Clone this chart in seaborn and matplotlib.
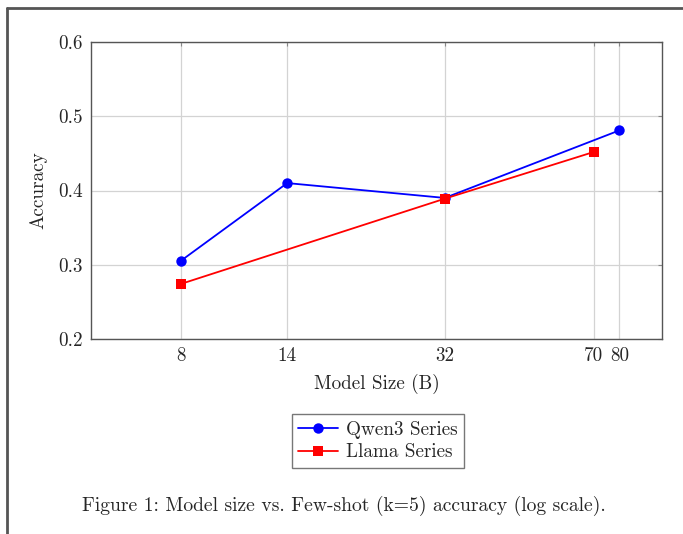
import matplotlib
matplotlib.use("Agg")
import matplotlib.pyplot as plt
import seaborn as sns
import pandas as pd
from matplotlib.lines import Line2D
from matplotlib.ticker import FixedLocator, FixedFormatter, NullLocator

qwen_sizes = [8, 14, 32, 80]
qwen_acc = [0.305, 0.410, 0.390, 0.481]
llama_sizes = [8, 32, 70]
llama_acc = [0.274, 0.389, 0.452]
series_names = ["Qwen3 Series", "Llama Series"]
x_ticks = [8, 14, 32, 70, 80]
y_ticks = [0.2, 0.3, 0.4, 0.5, 0.6]

df = pd.DataFrame({
    "size": qwen_sizes + llama_sizes,
    "acc": qwen_acc + llama_acc,
    "series": [series_names[0]] * len(qwen_sizes) + [series_names[1]] * len(llama_sizes),
})

sns.set_style("whitegrid")
plt.rcParams["font.family"] = "serif"
plt.rcParams["font.serif"] = ["cmr10", "DejaVu Serif"]
plt.rcParams["mathtext.fontset"] = "cm"
plt.rcParams["axes.formatter.use_mathtext"] = True

fig = plt.figure(figsize=(6.83, 5.34), dpi=100)
ax = fig.add_axes([0.1332, 0.3652, 0.836, 0.5561])

sns.lineplot(data=df, x="size", y="acc", hue="series", style="series",
             palette={series_names[0]: "#0000ff", series_names[1]: "#ff0000"},
             markers={series_names[0]: "o", series_names[1]: "s"},
             dashes=False, markersize=7.5, linewidth=1.3, markeredgewidth=0,
             ax=ax, legend=False, sort=True, estimator=None)

ax.set_xscale("log")
ax.set_xlim(5, 100)
ax.set_ylim(0.2, 0.6)
ax.xaxis.set_major_locator(FixedLocator(x_ticks))
ax.xaxis.set_major_formatter(FixedFormatter([str(t) for t in x_ticks]))
ax.xaxis.set_minor_locator(NullLocator())
ax.yaxis.set_major_locator(FixedLocator(y_ticks))
ax.yaxis.set_major_formatter(FixedFormatter([f"{t:.1f}" for t in y_ticks]))

ax.grid(True, color="#d3d3d3", linewidth=0.9)
for s in ax.spines.values():
    s.set_color("#555555")
    s.set_linewidth(1.0)
ax.tick_params(axis="both", which="major", direction="in", length=3,
               color="#888888", labelsize=13.8, pad=6, top=True, right=True)

ax.set_xlabel("Model Size (B)", fontsize=13.8, labelpad=6)
ax.set_ylabel("Accuracy", fontsize=13.8, labelpad=8)

handles = [
    Line2D([], [], color="#0000ff", marker="o", markersize=7.5, markeredgewidth=0, linewidth=1.3),
    Line2D([], [], color="#ff0000", marker="s", markersize=7.5, markeredgewidth=0, linewidth=1.3),
]
leg = fig.legend(handles, series_names, loc="center", bbox_to_anchor=(378 / 683, 1 - 441 / 534),
                 fontsize=13.8, frameon=True, fancybox=False, edgecolor="#555555",
                 handlelength=2.1, handletextpad=0.4, borderpad=0.35, labelspacing=0.25)
leg.get_frame().set_linewidth(1.0)

fig.text(344 / 683, 1 - 506 / 534,
         "Figure 1: Model size vs. Few-shot (k=5) accuracy (log scale).",
         ha="center", va="center", fontsize=14.1)

# page border
fig.add_artist(Line2D([7 / 683, 7 / 683], [0, 1 - 8 / 534], transform=fig.transFigure,
                      color="#555555", linewidth=2))
fig.add_artist(Line2D([7 / 683, 1], [1 - 8 / 534, 1 - 8 / 534], transform=fig.transFigure,
                      color="#555555", linewidth=2))

fig.savefig("out.png", dpi=100)
